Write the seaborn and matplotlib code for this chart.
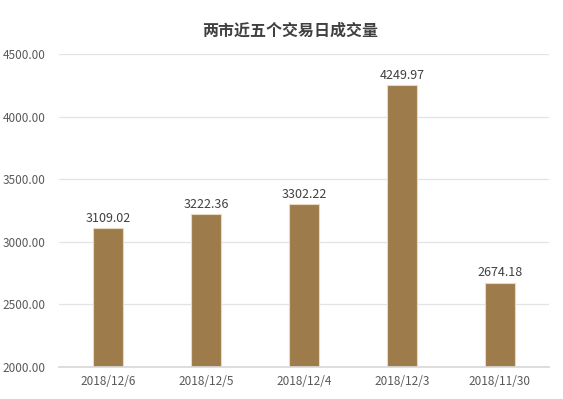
import matplotlib
matplotlib.use('Agg')
import matplotlib.pyplot as plt
import seaborn as sns
import pandas as pd

# 数据
dates = ['2018/12/6', '2018/12/5', '2018/12/4', '2018/12/3', '2018/11/30']
volumes = [3109.02, 3222.36, 3302.22, 4249.97, 2674.18]
y_ticks = [2000, 2500, 3000, 3500, 4000, 4500]

sns.set_theme(style='white')
plt.rcParams['font.family'] = ['Noto Sans CJK SC', 'DejaVu Sans']

df = pd.DataFrame({'date': dates, 'volume': volumes})

fig = plt.figure(figsize=(5.63, 3.99), dpi=100)
ax = fig.add_axes([0.105, 0.080, 0.870, 0.785])

sns.barplot(data=df, x='date', y='volume', color='#9E7B4A', saturation=1,
            width=0.3, edgecolor='#E8D9C0', linewidth=0.8, ax=ax)

ax.set_ylim(2000, 4500)
ax.set_yticks(y_ticks)
ax.set_yticklabels([f'{v:.2f}' for v in y_ticks], fontsize=8.5, color='#595959')
ax.tick_params(axis='x', labelsize=8.5, colors='#595959', length=0, pad=6)
ax.tick_params(axis='y', length=0, pad=10)
ax.set_xlabel('')
ax.set_ylabel('')

# 网格线
ax.grid(axis='y', color='#E3E3E3', linewidth=0.9)
ax.set_axisbelow(True)
for s in ['top', 'right', 'left']:
    ax.spines[s].set_visible(False)
ax.spines['bottom'].set_color('#D9D9D9')

# 数值标签
for i, v in enumerate(volumes):
    ax.text(i, v + 25, f'{v:.2f}', ha='center', va='bottom',
            fontsize=9, color='#404040')

fig.suptitle('两市近五个交易日成交量', x=0.515, y=0.943, fontsize=11.5,
             fontweight='bold', color='#404040')

fig.savefig('out.png', dpi=100)
